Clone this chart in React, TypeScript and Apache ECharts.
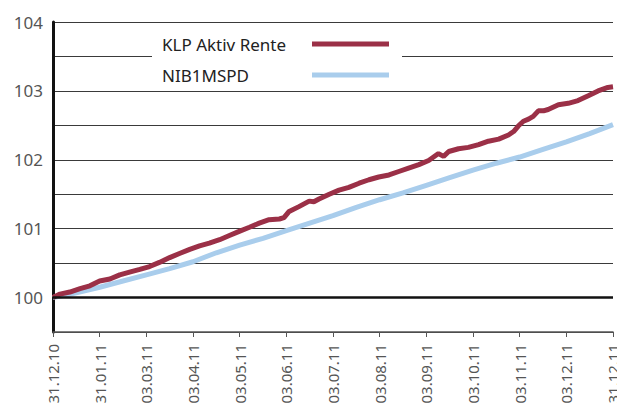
import React, { useEffect, useRef } from "react";
import * as echarts from "echarts";

const dateLabels = [
  "31.12.10", "31.01.11", "03.03.11", "03.04.11", "03.05.11", "03.06.11", "03.07.11",
  "03.08.11", "03.09.11", "03.10.11", "03.11.11", "03.12.11", "31.12.11",
];

// time position in months from 31.12.10
const klpTime = [
  0, 0.15, 0.36, 0.58, 0.79, 1.0, 1.22, 1.43, 1.64, 1.86, 2.07, 2.28, 2.5, 2.71, 2.93, 3.14,
  3.35, 3.57, 3.78, 3.99, 4.21, 4.42, 4.63, 4.85, 4.95, 5.06, 5.27, 5.49, 5.59, 5.7, 5.92,
  6.13, 6.34, 6.56, 6.77, 6.98, 7.2, 7.41, 7.62, 7.84, 8.05, 8.26, 8.37, 8.48, 8.69, 8.9,
  9.12, 9.33, 9.55, 9.76, 9.87, 9.97, 10.08, 10.19, 10.29, 10.4, 10.51, 10.61, 10.83, 11.04,
  11.25, 11.47, 11.68, 11.89, 12.0,
];
const klpValues = [
  100.0, 100.05, 100.08, 100.13, 100.17, 100.24, 100.27, 100.33, 100.37, 100.41, 100.45,
  100.51, 100.58, 100.64, 100.7, 100.75, 100.79, 100.84, 100.9, 100.96, 101.02, 101.08,
  101.13, 101.14, 101.16, 101.25, 101.32, 101.4, 101.39, 101.43, 101.5, 101.56, 101.6,
  101.66, 101.71, 101.75, 101.78, 101.83, 101.88, 101.93, 101.99, 102.09, 102.05, 102.12,
  102.16, 102.18, 102.22, 102.27, 102.3, 102.36, 102.41, 102.49, 102.56, 102.59, 102.63,
  102.71, 102.71, 102.73, 102.8, 102.82, 102.86, 102.93, 103.0, 103.05, 103.06,
];

const nibTime = [0, 0.5, 1, 1.5, 2, 2.5, 3, 3.5, 4, 4.5, 5, 5.5, 6, 6.5, 7, 7.5, 8, 8.5, 9, 9.5, 10, 10.5, 11, 11.5, 12];
const nibValues = [
  100.0, 100.07, 100.15, 100.24, 100.33, 100.42, 100.52, 100.65, 100.76, 100.86, 100.97,
  101.08, 101.19, 101.31, 101.42, 101.52, 101.63, 101.74, 101.85, 101.95, 102.04, 102.15,
  102.26, 102.38, 102.51,
];

const seriesNames = ["KLP Aktiv Rente", "NIB1MSPD"];
const seriesColors = ["#9b3047", "#a9cdec"];

export default function App() {
  const ref = useRef<HTMLDivElement>(null);
  useEffect(() => {
    if (!ref.current) return;
    const chart = echarts.init(ref.current, undefined, { renderer: "svg" });
    const font = "'Noto Sans', 'DejaVu Sans', sans-serif";
    chart.setOption({
      animation: false,
      backgroundColor: "#ffffff",
      grid: { left: 53, right: 4, top: 22, bottom: 71, containLabel: false, outerBoundsMode: "none" },
      legend: {
        data: seriesNames,
        orient: "vertical",
        left: 152,
        top: 30,
        align: "right",
        backgroundColor: "#ffffff",
        padding: [4, 13, 5, 10],
        itemWidth: 77,
        itemHeight: 5,
        itemGap: 11,
        icon: "rect",
        formatter: (name: string) => `{n|${name}}`,
        textStyle: {
          fontFamily: font,
          fontSize: 17,
          color: "#222",
          lineHeight: 20,
          rich: {
            n: {
              width: 145,
              align: "left",
              fontFamily: font,
              fontSize: 17,
              color: "#222",
              lineHeight: 20,
            },
          },
        },
      },
      xAxis: {
        type: "value",
        min: 0,
        max: 12,
        interval: 1,
        axisLine: { show: true, lineStyle: { color: "#555", width: 1.5 } },
        axisTick: { show: true, length: 5, lineStyle: { color: "#555", width: 1 } },
        splitLine: { show: false },
        axisLabel: {
          rotate: 90,
          margin: 12,
          fontSize: 15,
          color: "#555",
          fontFamily: font,
          formatter: (v: number) => dateLabels[Math.round(v)] ?? "",
        },
      },
      yAxis: {
        type: "value",
        min: 99.5,
        max: 104,
        interval: 0.5,
        axisLine: { show: true, lineStyle: { color: "#111", width: 3 } },
        axisTick: { show: false },
        splitLine: { show: true, lineStyle: { color: "#3a3a3a", width: 1 } },
        axisLabel: {
          margin: 10,
          fontSize: 17,
          color: "#555",
          fontFamily: font,
          formatter: (v: number) => (Number.isInteger(v) ? String(v) : ""),
        },
      },
      series: [
        {
          name: seriesNames[1],
          type: "line",
          data: nibTime.map((t, i) => [t, nibValues[i]]),
          showSymbol: false,
          symbol: "none",
          lineStyle: { color: seriesColors[1], width: 5 },
          itemStyle: { color: seriesColors[1] },
          z: 2,
          markLine: {
            silent: true,
            symbol: "none",
            label: { show: false },
            lineStyle: { color: "#111", width: 2.5, type: "solid" },
            data: [{ yAxis: 100 }],
          },
        },
        {
          name: seriesNames[0],
          type: "line",
          data: klpTime.map((t, i) => [t, klpValues[i]]),
          showSymbol: false,
          symbol: "none",
          lineStyle: { color: seriesColors[0], width: 5 },
          itemStyle: { color: seriesColors[0] },
          z: 3,
        },
      ],
    });
    return () => chart.dispose();
  }, []);
  return (
    <div
      ref={ref}
      style={{ position: "absolute", left: 0, top: 0, width: 617, height: 403 }}
    />
  );
}
